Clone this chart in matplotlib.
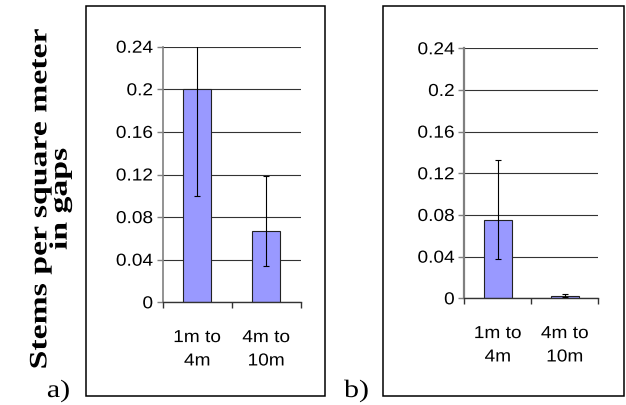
import matplotlib
matplotlib.use("Agg")
import matplotlib.pyplot as plt
from matplotlib.patches import Rectangle
from matplotlib.patheffects import AbstractPathEffect
from matplotlib.transforms import Affine2D

# stem densities in gaps, by gap size class
categories = ["1m to\n4m", "4m to\n10m"]
a_vals = [0.200, 0.067]
a_low = [0.100, 0.034]
a_high = [0.300, 0.119]
b_vals = [0.075, 0.002]
b_low = [0.038, 0.001]
b_high = [0.133, 0.004]
yticks = [0, 0.04, 0.08, 0.12, 0.16, 0.2, 0.24]
ytick_labels = ["0", "0.04", "0.08", "0.12", "0.16", "0.2", "0.24"]


class Stretch(AbstractPathEffect):
    """Widen glyphs along the baseline, about a point of the line."""

    def __init__(self, sx, anchor=0.5):
        super().__init__()
        self.sx = sx
        self.anchor = anchor

    def draw_path(self, renderer, gc, tpath, affine, rgbFace=None):
        ext = tpath.get_extents()
        cx = ext.x0 + self.anchor * ext.width
        local = Affine2D().translate(-cx, 0).scale(self.sx, 1).translate(cx, 0)
        renderer.draw_path(gc, tpath, local + affine, rgbFace)


W, H = 626, 406
fig = plt.figure(figsize=(W / 100, H / 100), dpi=100)


def px_axes(x0, x1, ytop, ybot):
    return fig.add_axes([x0 / W, 1 - ybot / H, (x1 - x0) / W, (ybot - ytop) / H])


def draw_panel(ax, vals, low, high, yspine_lw):
    x = range(len(vals))
    err = [[v - l for v, l in zip(vals, low)], [h - v for v, h in zip(vals, high)]]
    ax.bar(x, vals, width=0.41, color="#9999ff", edgecolor="#222222", linewidth=0.8, zorder=2)
    ax.errorbar(x, vals, yerr=err, fmt="none", ecolor="black", elinewidth=0.8,
                capsize=2.5, capthick=0.8, zorder=3)
    ax.set_xlim(-0.5, 1.5)
    ax.set_ylim(0, 0.24)
    ax.set_yticks(yticks)
    ax.set_yticklabels(ytick_labels)
    ax.grid(axis="y", color="#333333", linewidth=0.8)
    ax.set_axisbelow(True)
    for s in ["top", "right"]:
        ax.spines[s].set_visible(False)
    ax.spines["left"].set_color("#808080")
    ax.spines["left"].set_linewidth(yspine_lw)
    ax.spines["bottom"].set_color("#333333")
    ax.spines["bottom"].set_linewidth(1.0)
    ax.tick_params(axis="y", length=4, width=1, color="#808080", pad=3,
                   labelsize=12.5, labelfontfamily="Liberation Sans")
    # category boundaries carry the tick marks, labels sit at the centres
    ax.set_xticks([0, 1])
    ax.set_xticklabels(categories, linespacing=1.7)
    ax.set_xticks([-0.5, 0.5, 1.5], minor=True)
    ax.tick_params(axis="x", which="major", length=0, pad=20,
                   labelsize=12.5, labelfontfamily="Liberation Sans")
    ax.tick_params(axis="x", which="minor", length=4, width=1, color="#333333")
    for lbl in ax.get_yticklabels():
        lbl.set_path_effects([Stretch(1.1, anchor=1.0)])
    for lbl in ax.get_xticklabels():
        lbl.set_path_effects([Stretch(1.1, anchor=0.5)])


ax_a = px_axes(162.7, 300.7, 47.7, 303.3)
draw_panel(ax_a, a_vals, a_low, a_high, 1.2)
ax_b = px_axes(464.3, 598.3, 49.3, 299.3)
draw_panel(ax_b, b_vals, b_low, b_high, 1.6)

# frames round each panel
for x0, x1 in [(86, 324.7), (383.3, 624.3)]:
    fig.patches.append(Rectangle((x0 / W, 1 - 397 / H), (x1 - x0) / W, 390 / H,
                                 transform=fig.transFigure, fill=False,
                                 edgecolor="black", linewidth=1.1))

ylab = fig.text(50 / W, 1 - 200 / H, "Stems per square meter\nin gaps", rotation=90,
                ha="center", va="center", multialignment="center",
                fontsize=18, fontweight="bold", family="Liberation Serif",
                linespacing=0.85)
ylab.set_path_effects([Stretch(1.35)])

for txt, xp in [("a)", 47), ("b)", 344)]:
    t = fig.text(xp / W, 1 - 398 / H, txt, ha="left", va="baseline",
                 fontsize=18, family="Liberation Serif")
    t.set_path_effects([Stretch(1.2, anchor=0.0)])

fig.savefig("out.png", dpi=100)
